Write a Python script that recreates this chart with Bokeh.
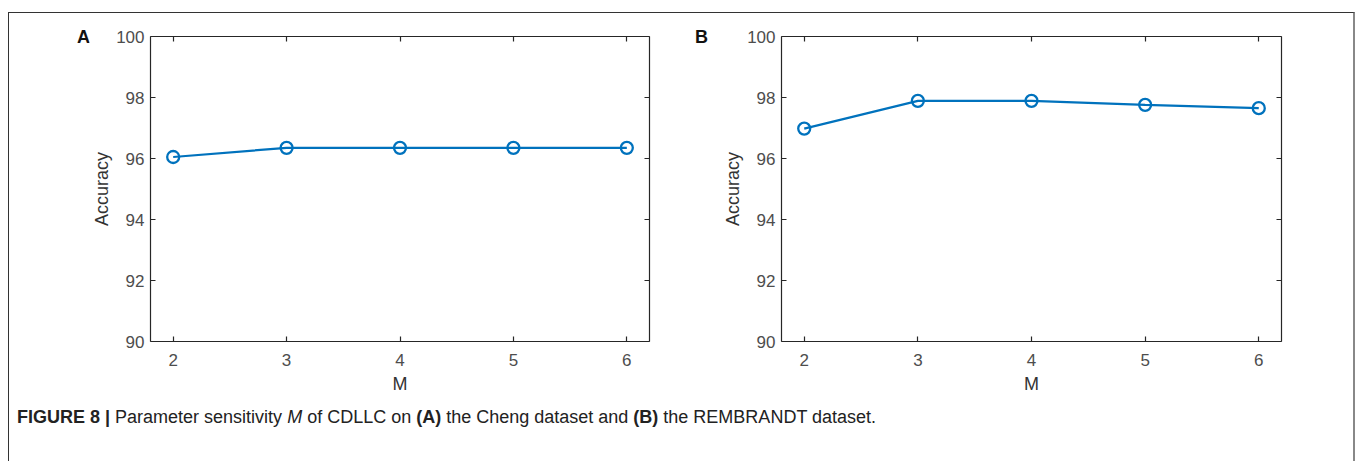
from bokeh.plotting import figure
from bokeh.models import LinearAxis, Div, FixedTicker, Range1d
from bokeh.layouts import row, column
from bokeh.embed import file_html
from bokeh.resources import INLINE

m_values = [2, 3, 4, 5, 6]
acc_cheng = [96.05, 96.35, 96.35, 96.35, 96.35]
acc_rembrandt = [96.98, 97.89, 97.89, 97.76, 97.65]
y_ticks = [90, 92, 94, 96, 98, 100]
panel_names = ["A", "B"]
caption_html = ("<b>FIGURE 8 |</b> Parameter sensitivity <i>M</i> of CDLLC on <b>(A)</b> "
                "the Cheng dataset and <b>(B)</b> the REMBRANDT dataset.")

FONT = "Liberation Sans"
LINE = "#0072BD"
AX = "#262626"
TICKC = "#4d4d4d"
FIG_H = 390


def make_panel(values, width, left, right):
    p = figure(width=width, height=FIG_H, output_backend="svg", toolbar_location=None,
               x_range=Range1d(1.8, 6.2), y_range=Range1d(90, 100),
               min_border_left=left, min_border_right=right,
               min_border_top=23, min_border_bottom=62,
               x_axis_label="M", y_axis_label="Accuracy")
    p.outline_line_color = None
    p.xgrid.visible = False
    p.ygrid.visible = False
    p.background_fill_color = "white"
    p.border_fill_color = "white"

    p.add_layout(LinearAxis(), "above")
    p.add_layout(LinearAxis(), "right")
    for ax in p.xaxis:
        ax.ticker = FixedTicker(ticks=m_values)
    for ax in p.yaxis:
        ax.ticker = FixedTicker(ticks=y_ticks)
    for ax in p.axis:
        ax.axis_line_color = AX
        ax.axis_line_width = 1.2
        ax.major_tick_line_color = AX
        ax.major_tick_line_width = 1.2
        ax.major_tick_in = 5
        ax.major_tick_out = 0
        ax.minor_tick_line_color = None
        ax.major_label_text_font = FONT
        ax.major_label_text_font_size = "17px"
        ax.major_label_text_color = TICKC
        ax.axis_label_text_font = FONT
        ax.axis_label_text_font_size = "18px"
        ax.axis_label_text_font_style = "normal"
        ax.axis_label_text_color = "#333333"
    for ax in (p.above[0], p.right[0]):
        ax.major_label_text_color = None
        ax.major_label_text_font_size = "1px"
        ax.major_label_standoff = 0
    p.below[0].major_label_standoff = 12
    p.below[0].axis_label_standoff = 5
    p.left[0].major_label_standoff = 6
    p.left[0].axis_label_standoff = 1

    p.line(m_values, values, line_color=LINE, line_width=2.2)
    p.scatter(m_values, values, marker="circle", size=12, fill_color=None,
              line_color=LINE, line_width=2.3)
    return p


def panel_tag(name, width, pad_left):
    html = (f'<div style="padding-top:14px; padding-left:{pad_left}px; '
            f'font-family:{FONT}; font-size:18px; font-weight:bold; color:#111111; '
            f'line-height:20px;">{name}</div>')
    return Div(text=html, width=width, height=FIG_H, margin=0)


tagA = panel_tag(panel_names[0], 80, 68)
pA = make_panel(acc_cheng, 591, 60, 31)
tagB = panel_tag(panel_names[1], 32, 15)
pB = make_panel(acc_rembrandt, 641, 69, 72)

cap = Div(text=f'<div style="font-family:{FONT}; font-size:18px; color:#222222; '
               f'padding-left:8px; padding-top:4px; line-height:20px; '
               f'white-space:nowrap;">{caption_html}</div>',
          width=1344, height=58, margin=0)

layout = column(row(tagA, pA, tagB, pB), cap,
                styles={"border-left": "1px solid #333333",
                        "border-top": "1px solid #333333",
                        "border-right": "2px solid #888888",
                        "margin-top": "12px", "margin-left": "8px"})

open("out.html", "w").write(file_html(layout, INLINE))
